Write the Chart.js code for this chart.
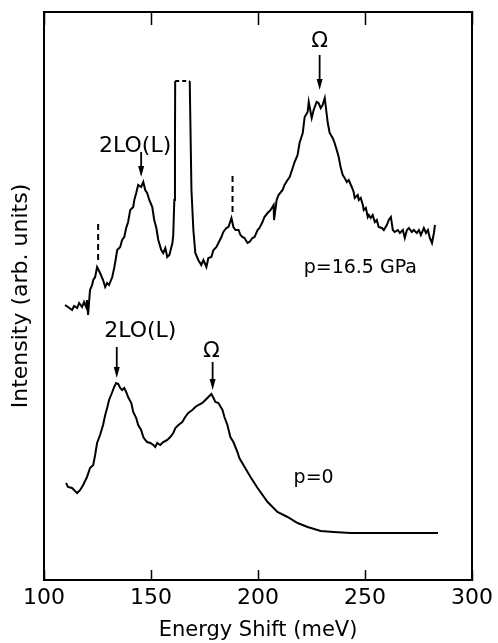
<!DOCTYPE html>
<html>
<head>
<meta charset="utf-8">
<script src="https://cdn.jsdelivr.net/npm/chart.js@4.4.1/dist/chart.umd.min.js"></script>
<style>
  html, body { margin: 0; padding: 0; background: #fff; }
  #wrap { width: 498px; height: 643px; }
</style>
</head>
<body>
<div id="wrap"><canvas id="chart"></canvas></div>
<script>
// [energy shift (meV), intensity (arb. units)]
const upperSpectrum = [
    [109.8, 275], [111.2, 273], [113.1, 270], [114.1, 274], [115.5, 272],
    [116.4, 277], [117.8, 273], [118.7, 278], [119.7, 273], [120.1, 280],
    [120.6, 265], [121.5, 290], [122.5, 295], [123.0, 300], [123.9, 303],
    [124.8, 313], [126.2, 307], [127.6, 300], [128.6, 293], [129.5, 297],
    [130.4, 295], [131.9, 303], [132.8, 312], [133.7, 323], [134.2, 330],
    [135.6, 333], [136.5, 340], [137.5, 343], [138.4, 352], [139.3, 358],
    [140.3, 370], [141.7, 373], [142.2, 380], [143.1, 387], [144.0, 395],
    [145.4, 393], [146.4, 398], [147.3, 390], [148.2, 387], [149.2, 380],
    [150.6, 373], [151.5, 360], [152.5, 352], [153.4, 340], [154.8, 330],
    [155.7, 327], [156.7, 332], [157.6, 323], [158.6, 325], [160.0, 337],
    [160.4, 345], [160.9, 380], [161.2, 440], [161.3, 499],
    // laser / Raman line cut off (dashed top)
    [168.1, 499], [168.9, 390], [169.8, 350], [170.7, 327], [172.1, 320],
    [173.5, 315], [174.5, 320], [175.9, 313], [176.8, 322], [178.2, 323],
    [179.2, 330], [180.6, 333], [181.5, 337], [182.9, 343], [183.8, 348],
    [185.2, 352], [186.2, 353], [187.6, 362], [188.5, 353], [189.5, 350],
    [190.9, 350], [191.8, 345], [192.7, 343], [193.7, 342], [195.1, 337],
    [196.0, 338], [197.4, 342], [198.4, 343], [199.8, 350], [200.7, 352],
    [202.1, 358], [203.0, 363], [204.5, 367], [205.9, 370], [207.3, 375],
    [207.5, 360], [208.7, 380], [209.6, 385], [211.5, 390], [212.4, 395],
    [213.8, 400], [214.8, 403], [216.2, 412], [217.1, 418], [218.5, 425],
    [219.4, 437], [220.9, 447], [221.8, 463], [223.2, 468], [223.7, 478],
    [225.1, 462], [226.0, 470], [227.4, 478], [228.3, 477], [229.3, 472],
    [230.2, 475], [231.2, 482], [232.6, 457], [233.5, 447], [234.9, 442],
    [235.8, 437], [236.8, 430], [237.7, 423], [238.6, 413], [239.6, 405],
    [240.5, 402], [241.5, 398], [242.4, 400], [243.8, 393], [244.7, 388],
    [245.2, 382], [246.6, 385], [247.1, 380], [248.0, 382], [249.0, 375],
    [249.4, 370], [250.4, 372], [251.3, 363], [251.8, 365], [252.7, 362],
    [253.6, 365], [254.6, 358], [255.5, 360], [256.4, 353], [257.9, 352],
    [258.8, 350], [260.2, 355], [261.1, 360], [262.1, 363], [263.0, 350],
    [263.9, 348], [265.3, 350], [266.3, 347], [267.7, 350], [268.6, 342],
    [269.6, 350], [270.5, 352], [271.9, 348], [272.8, 350], [274.2, 347],
    [275.2, 350], [276.1, 345], [277.5, 352], [278.5, 347], [279.4, 350],
    [280.3, 342], [281.3, 337], [282.2, 347], [282.7, 355]
];

const lowerSpectrum = [
    [110.3, 97], [111.2, 93], [113.1, 92], [114.5, 89], [115.5, 87],
    [116.9, 90], [118.3, 95], [120.1, 103], [121.5, 112], [123.0, 115],
    [123.9, 125], [124.8, 137], [126.2, 145], [127.6, 155], [128.6, 165],
    [129.5, 172], [130.4, 180], [131.9, 188], [132.8, 193], [133.7, 197],
    [134.7, 196], [135.6, 192], [136.5, 190], [137.5, 192], [138.4, 188],
    [139.3, 183], [140.8, 177], [141.7, 168], [143.1, 162], [144.0, 155],
    [145.4, 150], [146.4, 143], [147.3, 140], [148.2, 138], [149.7, 137],
    [151.1, 135], [152.0, 133], [152.9, 137], [154.3, 135], [155.7, 138],
    [156.7, 139], [157.6, 140], [159.0, 143], [160.4, 147], [161.4, 152],
    [162.8, 155], [164.6, 158], [166.0, 163], [167.4, 167], [169.3, 170],
    [170.7, 173], [172.1, 175], [174.0, 177], [175.4, 180], [176.8, 183],
    [178.2, 186], [179.2, 182], [180.1, 178], [181.5, 177], [183.4, 170],
    [184.3, 163], [185.7, 155], [187.1, 143], [188.5, 138], [190.4, 128],
    [191.3, 122], [193.2, 115], [196.5, 103], [199.8, 92], [204.5, 78],
    [209.1, 68], [213.8, 63], [218.5, 57], [223.2, 53], [229.3, 49],
    [235.4, 48], [243.3, 47], [251.3, 47], [266.8, 47], [284.1, 47]
];

const cutTop = 499;

// dashed markers on the 16.5 GPa spectrum
const markerEnergy = [125.3, 188.1];
const markerFrom = [320, 368];
const markerTo = [357, 405];

// peak labels and arrows
const labelTexts = ["Ω", "2LO(L)", "p=16.5 GPa", "2LO(L)", "Ω", "p=0"];
const labelEnergy = [228.8, 142.6, 247.8, 145.0, 178.2, 226.0];
const labelIntensity = [539, 434, 312, 249, 229, 102];
const arrowEnergy = [228.8, 145.4, 134.0, 178.8];
const arrowFrom = [525, 428, 233, 218];
const arrowTo = [490, 403, 202, 190];

const xTicks = [100, 150, 200, 250, 300];

Chart.defaults.font.family = "'DejaVu Sans', sans-serif";
Chart.defaults.color = "#000";

const toPoints = (pairs) => pairs.map(([x, y]) => ({ x, y }));

const curve = (pairs) => ({
    data: toPoints(pairs),
    borderColor: "#000",
    borderWidth: 2,
    pointRadius: 0,
    tension: 0,
    segment: {
        borderDash: (ctx) =>
            ctx.p0.parsed.y === cutTop && ctx.p1.parsed.y === cutTop ? [4, 3] : undefined
    }
});

const markers = markerEnergy.map((e, i) => ({
    data: [{ x: e, y: markerFrom[i] }, { x: e, y: markerTo[i] }],
    borderColor: "#000",
    borderWidth: 2,
    borderDash: [6, 4],
    pointRadius: 0
}));

const annotations = {
    id: "annotations",
    afterDatasetsDraw(chart) {
        const { ctx, scales: { x, y } } = chart;
        ctx.save();
        ctx.strokeStyle = "#000";
        ctx.fillStyle = "#000";
        ctx.lineWidth = 1.8;
        arrowEnergy.forEach((e, i) => {
            const px = x.getPixelForValue(e);
            const y1 = y.getPixelForValue(arrowFrom[i]);
            const y2 = y.getPixelForValue(arrowTo[i]);
            ctx.beginPath();
            ctx.moveTo(px, y1);
            ctx.lineTo(px, y2 - 8);
            ctx.stroke();
            ctx.beginPath();
            ctx.moveTo(px - 3, y2 - 11);
            ctx.lineTo(px + 3, y2 - 11);
            ctx.lineTo(px, y2);
            ctx.closePath();
            ctx.fill();
        });
        ctx.textAlign = "center";
        ctx.textBaseline = "middle";
        labelTexts.forEach((t, i) => {
            const size = t.startsWith("p=") ? 19 : 22;
            ctx.font = size + "px 'DejaVu Sans'";
            ctx.fillText(t, x.getPixelForValue(labelEnergy[i]), y.getPixelForValue(labelIntensity[i]));
        });
        ctx.restore();
    }
};

const frame = { display: true, color: "#000", width: 2 };

const noSidePadding = (scale) => {
    scale.paddingLeft = 0;
    scale.paddingRight = 0;
};

new Chart(document.getElementById("chart"), {
    type: "line",
    data: {
        datasets: [curve(upperSpectrum), curve(lowerSpectrum), ...markers]
    },
    options: {
        responsive: true,
        maintainAspectRatio: false,
        animation: false,
        layout: { padding: 0 },
        plugins: {
            legend: { display: false },
            tooltip: { enabled: false }
        },
        scales: {
            x: {
                type: "linear",
                position: "bottom",
                min: 100,
                max: 300,
                afterBuildTicks: (scale) => {
                    scale.ticks = xTicks.map((value) => ({ value }));
                },
                ticks: { font: { size: 22 }, padding: 15, color: "#000" },
                grid: { drawOnChartArea: false, tickLength: -10, tickColor: "#000", tickWidth: 1.5 },
                border: frame,
                title: {
                    display: true,
                    text: "Energy Shift (meV)",
                    font: { size: 21 },
                    padding: 0,
                    color: "#000"
                },
                afterFit: (scale) => {
                    scale.height = 63;
                    noSidePadding(scale);
                }
            },
            x2: {
                type: "linear",
                position: "top",
                min: 100,
                max: 300,
                afterBuildTicks: (scale) => {
                    scale.ticks = xTicks.map((value) => ({ value }));
                },
                ticks: { display: false },
                grid: { drawOnChartArea: false, tickLength: -13, tickColor: "#000", tickWidth: 1.5 },
                border: frame,
                afterFit: (scale) => {
                    scale.height = 12;
                    noSidePadding(scale);
                }
            },
            y: {
                position: "left",
                min: 0,
                max: 568,
                ticks: { display: false },
                grid: { display: false },
                border: frame,
                title: {
                    display: true,
                    text: "Intensity (arb. units)",
                    font: { size: 22 },
                    padding: { top: 8 },
                    color: "#000"
                },
                afterFit: (scale) => { scale.width = 44; }
            },
            y2: {
                position: "right",
                min: 0,
                max: 568,
                ticks: { display: false },
                grid: { display: false },
                border: frame,
                afterFit: (scale) => { scale.width = 26; }
            }
        }
    },
    plugins: [annotations]
});
</script>
</body>
</html>
